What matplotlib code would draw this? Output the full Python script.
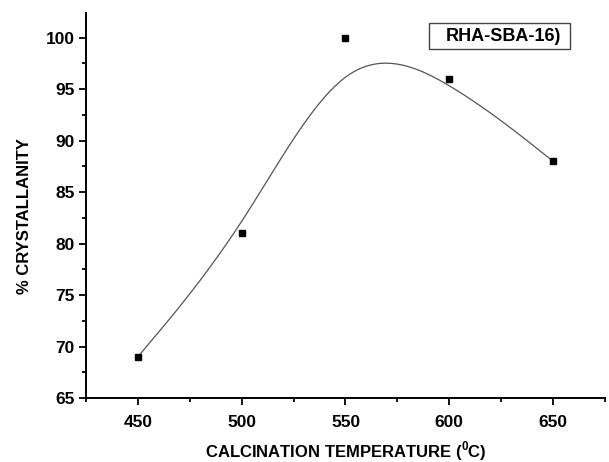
import numpy as np
import matplotlib.pyplot as plt
from matplotlib.patches import Rectangle
from matplotlib.ticker import MultipleLocator

# data
temperature = [450, 500, 550, 600, 650]
crystallinity = [69, 81, 100, 96, 88]
sample_name = "RHA-SBA-16)"


def bspline(px, py, n=40):
    # uniform cubic B-spline, data points as control points,
    # end points repeated so the curve starts/ends on them (Origin style)
    px = np.r_[[px[0]] * 2, px, [px[-1]] * 2].astype(float)
    py = np.r_[[py[0]] * 2, py, [py[-1]] * 2].astype(float)
    t = np.linspace(0, 1, n)
    b0 = (1 - t) ** 3 / 6
    b1 = (3 * t ** 3 - 6 * t ** 2 + 4) / 6
    b2 = (-3 * t ** 3 + 3 * t ** 2 + 3 * t + 1) / 6
    b3 = t ** 3 / 6
    xs, ys = [], []
    for i in range(len(px) - 3):
        xs.append(b0 * px[i] + b1 * px[i + 1] + b2 * px[i + 2] + b3 * px[i + 3])
        ys.append(b0 * py[i] + b1 * py[i + 1] + b2 * py[i + 2] + b3 * py[i + 3])
    return np.concatenate(xs), np.concatenate(ys)


plt.rcParams['font.family'] = ['Liberation Sans', 'DejaVu Sans']

fig = plt.figure(figsize=(6.09, 4.62), dpi=100)
ax = fig.add_axes([0.1412, 0.1385, 0.8522, 0.8333])

sx, sy = bspline(temperature, crystallinity)
ax.plot(sx, sy, color='#555555', lw=0.9)
ax.plot(temperature, crystallinity, 's', color='black', ms=5)

ax.set_xlim(425, 675)
ax.set_ylim(65, 102.4)
ax.xaxis.set_major_locator(MultipleLocator(50))
ax.xaxis.set_minor_locator(MultipleLocator(25))
ax.yaxis.set_major_locator(MultipleLocator(5))
ax.yaxis.set_minor_locator(MultipleLocator(2.5))

for side in ['top', 'right']:
    ax.spines[side].set_visible(False)
for side in ['left', 'bottom']:
    ax.spines[side].set_linewidth(1.4)

ax.tick_params(which='major', direction='out', length=5, width=1.3,
               labelsize=12.5)
ax.tick_params(which='minor', direction='out', length=3, width=1.3)
ax.tick_params(axis='x', which='major', pad=7)
ax.tick_params(axis='y', which='major', pad=3)
for lab in ax.get_xticklabels() + ax.get_yticklabels():
    lab.set_fontweight('bold')

ax.set_xlabel(r'CALCINATION TEMPERATURE ($^{\mathregular{0}}$C)',
              fontsize=12, fontweight='bold', va='center')
ax.xaxis.set_label_coords(0.5, -0.138)
ax.set_ylabel('% CRYSTALLANITY', fontsize=12, fontweight='bold',
              va='center')
ax.yaxis.set_label_coords(-0.119, 0.473)

ax.add_patch(Rectangle((0.661, 0.906), 0.272, 0.0675, transform=ax.transAxes,
                       fc='white', ec='#444444', lw=1.0, clip_on=False))
ax.text(0.804, 0.940, sample_name, transform=ax.transAxes,
        fontsize=13, fontweight='bold', va='center', ha='center')

fig.savefig('out.png', dpi=100)
